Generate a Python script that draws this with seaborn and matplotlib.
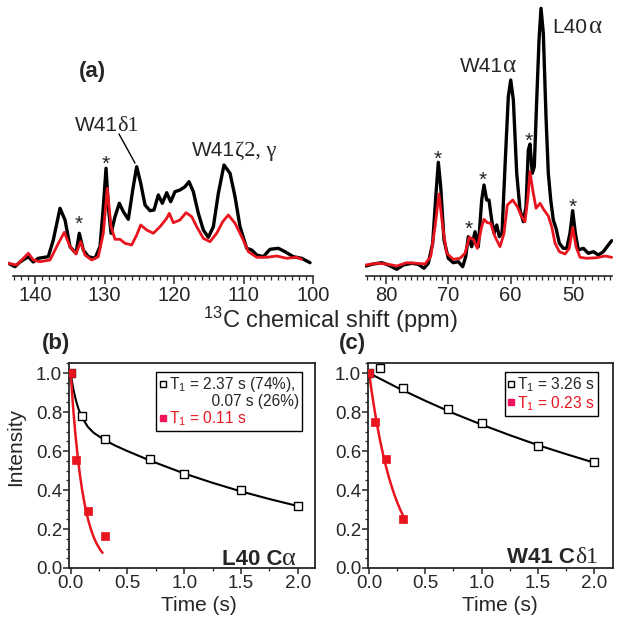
import matplotlib
matplotlib.use("Agg")
import matplotlib.pyplot as plt
from matplotlib.ticker import MultipleLocator, FormatStrFormatter
from matplotlib.lines import Line2D
import seaborn as sns

# ---------------- data: 13C spectra (ppm, intensity a.u.) ----------------
left_black_ppm = [143.84, 142.88, 142.16, 140.96, 140.24, 139.53, 138.09, 137.37, 136.40, 135.68,
                  134.96, 134.10, 133.63, 133.05, 132.33, 131.37, 130.65, 130.17, 129.78, 129.45,
                  129.06, 128.49, 127.87, 127.29, 126.57, 125.94, 125.37, 124.79, 124.17, 123.45,
                  122.88, 122.26, 121.68, 121.05, 120.48, 119.86, 119.14, 118.42, 117.84, 117.22,
                  116.50, 115.78, 115.06, 114.34, 113.62, 112.81, 111.94, 111.22, 110.50, 109.54,
                  108.82, 108.10, 107.15, 106.19, 104.99, 104.03, 102.83, 101.63, 100.43]
left_black_int = [12.7, 9.3, 14.0, 19.3, 14.0, 17.7, 19.3, 36.0, 67.7, 56.0,
                  29.3, 22.7, 42.7, 26.0, 19.3, 17.7, 29.3, 69.3, 107.7, 69.3,
                  42.7, 59.3, 72.7, 64.3, 56.7, 86.0, 109.3, 92.7, 71.0, 65.3,
                  66.0, 81.0, 72.7, 83.3, 74.3, 84.3, 86.0, 89.3, 94.3, 84.3,
                  62.7, 46.0, 38.7, 49.3, 82.7, 111.0, 102.7, 79.3, 49.3, 27.7,
                  26.0, 21.0, 19.3, 26.7, 27.7, 24.3, 19.3, 17.7, 13.3]
left_red_ppm = [143.84, 142.64, 140.96, 140.24, 139.28, 137.84, 136.64, 135.78, 134.96, 134.10,
                133.43, 132.81, 131.84, 130.89, 130.17, 129.60, 129.06, 128.49, 127.77, 127.05,
                126.09, 125.37, 124.79, 123.93, 122.98, 122.01, 121.05, 120.68, 120.10, 119.14,
                118.27, 117.45, 116.73, 115.78, 114.82, 113.86, 112.99, 112.18, 111.22, 110.26,
                109.30, 108.10, 106.66, 105.22, 103.78, 102.35, 101.63]
left_red_int = [12.7, 11.0, 22.7, 16.0, 14.3, 16.0, 32.7, 43.7, 29.3, 22.0,
                34.3, 21.0, 16.0, 19.3, 42.7, 87.7, 49.3, 36.7, 36.7, 32.7,
                31.0, 41.0, 51.0, 46.0, 42.7, 49.3, 57.7, 62.7, 53.3, 56.0,
                63.3, 59.3, 49.3, 37.7, 34.3, 42.7, 54.3, 61.0, 52.7, 39.3,
                24.3, 18.7, 18.7, 20.0, 17.7, 18.7, 16.7]
right_black_ppm = [83.26, 82.04, 80.69, 79.63, 78.28, 77.22, 75.88, 74.82, 73.90, 73.21,
                   72.51, 71.97, 71.60, 71.22, 70.69, 70.00, 69.20, 68.39, 67.69, 67.21,
                   66.79, 66.25, 65.71, 65.18, 64.64, 64.27, 63.84, 63.47, 63.04, 62.66,
                   62.23, 61.81, 61.38, 60.90, 60.37, 59.98, 59.56, 59.02, 58.49, 57.96,
                   57.53, 57.16, 56.89, 56.52, 56.20, 55.81, 55.44, 55.12, 54.75, 54.32,
                   53.95, 53.56, 53.15, 52.71, 52.18, 51.54, 51.00, 50.47, 50.04, 49.61,
                   49.13, 48.33, 47.53, 46.72, 45.92, 45.12, 44.32, 43.78]
right_black_int = [10.0, 12.0, 13.3, 11.0, 6.7, 11.0, 12.7, 11.7, 7.7, 12.7,
                   32.7, 82.7, 113.7, 89.3, 36.0, 17.7, 13.3, 14.3, 9.3, 19.3,
                   39.3, 29.3, 44.3, 29.3, 76.0, 91.0, 76.0, 76.0, 56.0, 42.7,
                   51.0, 39.3, 42.7, 109.3, 179.3, 196.0, 176.0, 102.7, 66.0, 54.3,
                   69.3, 126.0, 132.0, 102.7, 109.3, 176.0, 236.0, 267.7, 242.7, 159.3,
                   102.7, 76.0, 56.0, 47.7, 32.7, 27.7, 27.7, 42.7, 65.3, 42.7,
                   26.0, 27.7, 22.7, 24.3, 21.0, 24.3, 31.0, 35.3]
right_red_ppm = [83.26, 81.50, 79.90, 78.28, 76.68, 75.07, 73.74, 72.83, 72.13, 71.49,
                 70.90, 70.26, 69.20, 68.12, 67.32, 66.63, 65.99, 65.34, 64.64, 64.27,
                 63.74, 63.20, 62.50, 61.70, 61.06, 60.53, 59.66, 58.92, 58.22, 57.69,
                 57.21, 56.89, 56.45, 55.92, 55.28, 54.64, 53.95, 53.40, 52.87, 52.18,
                 51.27, 50.58, 50.04, 49.50, 48.86, 47.79, 46.18, 44.85, 43.78]
right_red_int = [11.0, 12.7, 12.0, 10.0, 13.3, 12.7, 12.0, 19.3, 49.3, 82.0,
                 49.3, 22.7, 16.7, 17.7, 22.7, 38.7, 36.7, 27.7, 49.3, 56.7,
                 53.3, 52.7, 39.3, 29.3, 42.7, 71.0, 76.0, 69.3, 59.3, 54.3,
                 79.3, 104.3, 86.0, 67.7, 72.7, 66.0, 60.0, 49.3, 32.7, 24.3,
                 22.0, 27.7, 48.7, 29.3, 18.7, 17.7, 18.3, 20.0, 18.7]

# ---------------- data: T1 relaxation ----------------
b_black_t = [0.0, 0.1, 0.3, 0.7, 1.0, 1.5, 2.0]
b_black_I = [1.0, 0.78, 0.66, 0.56, 0.48, 0.40, 0.32]
b_red_t = [0.0, 0.05, 0.15, 0.3]
b_red_I = [1.0, 0.555, 0.295, 0.165]
b_black_fit_t = [0.0, 0.01, 0.02, 0.03, 0.05, 0.07, 0.1, 0.15, 0.2, 0.3, 0.4, 0.5, 0.7, 1.0, 1.25, 1.5, 1.75, 2.0]
b_black_fit_I = [1.0, 0.962, 0.929, 0.900, 0.852, 0.814, 0.772, 0.725, 0.695, 0.656, 0.626, 0.600, 0.551, 0.485, 0.437, 0.393, 0.354, 0.318]
b_red_fit_t = [0.0, 0.02, 0.04, 0.06, 0.08, 0.10, 0.12, 0.14, 0.16, 0.18, 0.20, 0.22, 0.24, 0.26, 0.28]
b_red_fit_I = [1.0, 0.834, 0.695, 0.580, 0.483, 0.403, 0.336, 0.280, 0.234, 0.195, 0.162, 0.135, 0.113, 0.094, 0.078]

c_black_t = [0.0, 0.1, 0.3, 0.7, 1.0, 1.5, 2.0]
c_black_I = [1.0, 1.027, 0.924, 0.816, 0.744, 0.624, 0.544]
c_red_t = [0.0, 0.05, 0.15, 0.3]
c_red_I = [1.0, 0.749, 0.558, 0.249]
c_black_fit_t = [0.0, 0.25, 0.5, 0.75, 1.0, 1.25, 1.5, 1.75, 2.0]
c_black_fit_I = [1.0, 0.926, 0.858, 0.794, 0.736, 0.682, 0.631, 0.585, 0.541]
c_red_fit_t = [0.0, 0.025, 0.05, 0.075, 0.1, 0.125, 0.15, 0.175, 0.2, 0.225, 0.25, 0.275, 0.3]
c_red_fit_I = [1.0, 0.897, 0.805, 0.722, 0.647, 0.581, 0.521, 0.467, 0.419, 0.376, 0.337, 0.302, 0.271]

b_labels = ["T$_1$ = 2.37 s (74%),", "          0.07 s (26%)", "T$_1$ = 0.11 s"]
c_labels = ["T$_1$ = 3.26 s", "T$_1$ = 0.23 s"]

# ---------------- style ----------------
sns.set_style("ticks")
plt.rcParams['font.family'] = ['Liberation Sans', 'DejaVu Sans']
plt.rcParams['mathtext.fontset'] = 'custom'
plt.rcParams['mathtext.rm'] = 'Liberation Sans'
plt.rcParams['mathtext.it'] = 'Liberation Sans:italic'
plt.rcParams['mathtext.bf'] = 'Liberation Sans:bold'

RED = '#e8141e'
LEGRED = '#f0145a'
SERIF = ['Liberation Serif', 'DejaVu Serif']
W, H = 624, 620
fig = plt.figure(figsize=(6.24, 6.2), dpi=100)


def box(x0, y0, x1, y1):
    return [x0 / W, 1 - y1 / H, (x1 - x0) / W, (y1 - y0) / H]


def fx(x):
    return x / W


def fy(y):
    return 1 - y / H


# ---------------- spectra ----------------
axL = fig.add_axes(box(7.9, 6, 314.4, 276))
axR = fig.add_axes(box(364.8, 6, 612.8, 276))
for ax, bx, by, rx, ry, xl, bounds in [
        (axL, left_black_ppm, left_black_int, left_red_ppm, left_red_int, (143.9, 99.8), (143.2, 100)),
        (axR, right_black_ppm, right_black_int, right_red_ppm, right_red_int, (83.4, 43.6), (83.25, 43.8))]:
    sns.lineplot(x=bx, y=by, ax=ax, color='black', lw=2.4, estimator=None, sort=False)
    sns.lineplot(x=rx, y=ry, ax=ax, color=RED, lw=2.0, estimator=None, sort=False)
    ax.set_xlim(*xl)
    ax.set_ylim(0, 270)
    for s in ['left', 'right', 'top']:
        ax.spines[s].set_visible(False)
    ax.spines['bottom'].set_bounds(*bounds)
    ax.spines['bottom'].set_linewidth(1.2)
    ax.set_yticks([])
    ax.xaxis.set_major_locator(MultipleLocator(10))
    ax.xaxis.set_minor_locator(MultipleLocator(1))
    ax.tick_params(axis='x', which='major', direction='out', length=6, width=1.1, labelsize=14.5, pad=1)
    ax.tick_params(axis='x', which='minor', direction='out', length=3, width=0.9)
    ax.set_xlabel('')
    ax.set_ylabel('')
    ax.patch.set_alpha(0)

fig.text(fx(92), fy(72), '(a)', fontsize=16, fontweight='bold', ha='center', va='center')
# peak labels: residue in sans, Greek part in serif
fig.text(fx(75), fy(131), 'W41', fontsize=15, ha='left', va='baseline')
fig.text(fx(117), fy(131), 'δ1', fontsize=16, family=SERIF, ha='left', va='baseline')
fig.add_artist(Line2D([fx(119), fx(135)], [fy(134), fy(163)], color='black', lw=1.0))
fig.text(fx(192), fy(156), 'W41', fontsize=15, ha='left', va='baseline')
fig.text(fx(235), fy(156), 'ζ2, γ', fontsize=16, family=SERIF, ha='left', va='baseline')
fig.text(fx(460), fy(72), 'W41', fontsize=15, ha='left', va='baseline')
fig.text(fx(503), fy(72), 'α', fontsize=18, family=SERIF, ha='left', va='baseline')
fig.text(fx(552), fy(33), 'L40', fontsize=15, ha='left', va='baseline')
fig.text(fx(589), fy(33), 'α', fontsize=18, family=SERIF, ha='left', va='baseline')
for (x, y) in [(79, 220), (106, 160), (438, 155), (469, 225), (483, 176), (529, 137), (573, 203)]:
    fig.text(fx(x), fy(y + 4), '*', fontsize=15, ha='center', va='center', color='#222222')
fig.text(fx(330), fy(320), '$^{13}$C chemical shift (ppm)', fontsize=17, ha='center', va='center')

# ---------------- relaxation panels ----------------
axB = fig.add_axes(box(69, 363, 315, 568))
axC = fig.add_axes(box(368, 363, 613, 568))

panels = [
    (axB, b_black_t, b_black_I, b_red_t, b_red_I, b_black_fit_t, b_black_fit_I, b_red_fit_t, b_red_fit_I,
     (-0.015, 2.152)),
    (axC, c_black_t, c_black_I, c_red_t, c_red_I, c_black_fit_t, c_black_fit_I, c_red_fit_t, c_red_fit_I,
     (-0.01, 2.17)),
]
for ax, bt, bI, rt, rI, bft, bfI, rft, rfI, xl in panels:
    sns.lineplot(x=bft, y=bfI, ax=ax, color='black', lw=1.5, estimator=None, sort=False)
    sns.lineplot(x=rft, y=rfI, ax=ax, color=RED, lw=1.8, estimator=None, sort=False)
    sns.scatterplot(x=bt, y=bI, ax=ax, marker='s', s=28, color='white', edgecolor='black',
                    linewidth=1.0, zorder=4)
    sns.scatterplot(x=rt, y=rI, ax=ax, marker='s', s=38, color=RED, edgecolor=RED,
                    linewidth=0.5, zorder=5)
    ax.set_xlim(*xl)
    ax.set_ylim(0, 1.052)
    ax.xaxis.set_major_locator(MultipleLocator(0.5))
    ax.xaxis.set_minor_locator(MultipleLocator(0.25))
    ax.yaxis.set_major_locator(MultipleLocator(0.2))
    ax.yaxis.set_minor_locator(MultipleLocator(0.05))
    ax.xaxis.set_major_formatter(FormatStrFormatter('%.1f'))
    ax.yaxis.set_major_formatter(FormatStrFormatter('%.1f'))
    ax.tick_params(which='major', direction='out', length=4, width=1.1, labelsize=13.5, pad=1)
    ax.tick_params(which='minor', direction='out', length=2.5, width=0.9)
    for s in ax.spines.values():
        s.set_linewidth(1.3)
        s.set_visible(True)
    ax.set_xlabel('Time (s)', fontsize=15)
    ax.set_ylabel('')

axB.set_ylabel('Intensity', fontsize=15)
axB.yaxis.set_label_coords(-0.18, 0.59)
axB.xaxis.set_label_coords(0.528, -0.135)
axC.xaxis.set_label_coords(0.539, -0.135)

open_sq = Line2D([], [], ls='none', marker='s', mfc='white', mec='black', ms=4.5, mew=1.0)
red_sq = Line2D([], [], ls='none', marker='s', mfc=LEGRED, mec=LEGRED, ms=4.5)
blank = Line2D([], [], ls='none')

leg_kw = dict(loc='upper right', borderaxespad=0, fontsize=11.2, frameon=True, fancybox=False,
              edgecolor='black', handlelength=0.4, handletextpad=0.2, labelspacing=0.0,
              borderpad=0.2, framealpha=1)
legB = axB.legend([open_sq, blank, red_sq], b_labels, bbox_to_anchor=(0.947, 0.956), **leg_kw)
legC = axC.legend([open_sq, red_sq], c_labels, bbox_to_anchor=(0.939, 0.956), **leg_kw)
for leg in (legB, legC):
    leg.get_frame().set_linewidth(1.0)
    leg.get_texts()[-1].set_color(RED)

fig.text(fx(56), fy(344), '(b)', fontsize=16, fontweight='bold', ha='center', va='center')
fig.text(fx(352), fy(344), '(c)', fontsize=16, fontweight='bold', ha='center', va='center')
fig.text(fx(222), fy(565), 'L40 C', fontsize=16, fontweight='bold', ha='left', va='baseline')
fig.text(fx(282), fy(565), 'α', fontsize=19, family=SERIF, ha='left', va='baseline')
fig.text(fx(507), fy(563), 'W41 C', fontsize=16, fontweight='bold', ha='left', va='baseline')
fig.text(fx(575), fy(563), 'δ1', fontsize=17, family=SERIF, ha='left', va='baseline')

fig.savefig('out.png', dpi=100)
